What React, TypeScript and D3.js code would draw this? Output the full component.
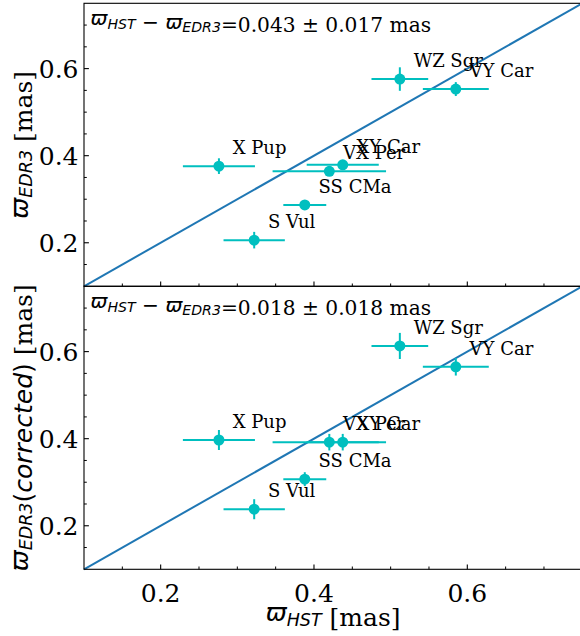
import React from "react";
import * as d3 from "d3";

// ---- data ----
const stars = ["X Pup", "S Vul", "SS CMa", "VX Per", "XY Car", "WZ Sgr", "VY Car"];
const hstPlx = [0.276, 0.322, 0.388, 0.42, 0.4375, 0.512, 0.585];
const hstErr = [0.047, 0.04, 0.028, 0.074, 0.047, 0.037, 0.043];
const edr3Plx = [0.376, 0.206, 0.287, 0.364, 0.379, 0.576, 0.553];
const edr3Err = [0.018, 0.019, 0.01, 0.01, 0.011, 0.027, 0.016];
const edr3CorrPlx = [0.397, 0.238, 0.307, 0.392, 0.392, 0.613, 0.565];
const edr3CorrErr = [0.023, 0.023, 0.016, 0.019, 0.019, 0.03, 0.02];
const meanDiff = ["0.043", "0.018"];
const meanDiffErr = ["0.017", "0.018"];
const majorTicks = [0.2, 0.4, 0.6];
const domain = [0.1, 0.75];

// ---- layout ----
const W = 580;
const H = 636;
const left = 84;
const right = 582.3;
const panelTops = [3.3, 286.3];
const panelH = 283;
const CYAN = "#00bfbf";
const BLUE = "#1f77b4";
const SERIF = "DejaVu Serif";
const SANS = "DejaVu Sans";

const x = d3.scaleLinear().domain(domain).range([left, right]);

function MathVar({ sub, size }: { sub: string; size: number }) {
  const s = size * 0.7;
  const dy = size * 0.19;
  return (
    <>
      <tspan fontFamily={SANS} fontStyle="italic">ϖ</tspan>
      <tspan fontFamily={SANS} fontStyle="italic" fontSize={s} dy={dy}>{sub}</tspan>
      <tspan dy={-dy} fontSize={size}>{""}</tspan>
    </>
  );
}

function Panel({ idx, yVals, yErrs, showXLabels }: { idx: number; yVals: number[]; yErrs: number[]; showXLabels: boolean }) {
  const top = panelTops[idx];
  const bottom = top + panelH;
  const y = d3.scaleLinear().domain(domain).range([bottom, top]);
  const isMajor = (t: number) => majorTicks.some((m) => Math.abs(m - t) < 1e-9);
  const inside = (t: number) => t > domain[0] + 1e-9 && t < domain[1] - 1e-9;
  const minorX = x.ticks(13).filter((t) => !isMajor(t) && inside(t));
  const minorY = y.ticks(13).filter((t) => !isMajor(t) && inside(t));
  const line = d3.line<number>().x((d) => x(d)).y((d) => y(d));
  const fs = 20.2;
  return (
    <g>
      {/* identity line */}
      <path d={line(domain) || ""} stroke={BLUE} strokeWidth={2} fill="none" />
      {/* error bars */}
      {stars.map((s, i) => (
        <g key={"e" + s}>
          <line x1={x(hstPlx[i] - hstErr[i])} x2={x(hstPlx[i] + hstErr[i])} y1={y(yVals[i])} y2={y(yVals[i])} stroke={CYAN} strokeWidth={2} />
          <line x1={x(hstPlx[i])} x2={x(hstPlx[i])} y1={y(yVals[i] - yErrs[i])} y2={y(yVals[i] + yErrs[i])} stroke={CYAN} strokeWidth={2} />
        </g>
      ))}
      {stars.map((s, i) => (
        <circle key={"c" + s} cx={x(hstPlx[i])} cy={y(yVals[i])} r={5.5} fill={CYAN} />
      ))}
      {/* star labels */}
      {stars.map((s, i) => (
        <text key={"t" + s} x={x(hstPlx[i] + 0.018)} y={y(yVals[i] + 0.028)} fontFamily={SERIF} fontSize={18} fill="#000">
          {s}
        </text>
      ))}
      {/* annotation */}
      <text x={left + 6.5} y={top + 21.5} fontFamily={SERIF} fontSize={fs} fill="#000">
        <MathVar sub="HST" size={fs} />
        <tspan fontFamily={SANS}>{" − "}</tspan>
        <MathVar sub="EDR3" size={fs} />
        <tspan>{`=${meanDiff[idx]} ± ${meanDiffErr[idx]} mas`}</tspan>
      </text>
      {/* spines */}
      <rect x={left} y={top} width={right - left} height={panelH} fill="none" stroke="#000" strokeWidth={1.1} />
      {/* x ticks (bottom, inward) */}
      {majorTicks.map((t) => (
        <line key={"xM" + t} x1={x(t)} x2={x(t)} y1={bottom} y2={bottom - 4.9} stroke="#000" strokeWidth={1.1} />
      ))}
      {minorX.map((t) => (
        <line key={"xm" + t} x1={x(t)} x2={x(t)} y1={bottom} y2={bottom - 2.8} stroke="#000" strokeWidth={1} />
      ))}
      {/* y ticks (left, inward) */}
      {majorTicks.map((t) => (
        <line key={"yM" + t} x1={left} x2={left + 4.9} y1={y(t)} y2={y(t)} stroke="#000" strokeWidth={1.1} />
      ))}
      {minorY.map((t) => (
        <line key={"ym" + t} x1={left} x2={left + 2.8} y1={y(t)} y2={y(t)} stroke="#000" strokeWidth={1} />
      ))}
      {/* y tick labels */}
      {majorTicks.map((t) => (
        <text key={"yl" + t} x={left - 5.5} y={y(t) + 9.1} textAnchor="end" fontFamily={SERIF} fontSize={25} fill="#000">
          {d3.format(".1f")(t)}
        </text>
      ))}
      {showXLabels &&
        majorTicks.map((t) => (
          <text key={"xl" + t} x={x(t)} y={602} textAnchor="middle" fontFamily={SERIF} fontSize={25} fill="#000">
            {d3.format(".1f")(t)}
          </text>
        ))}
    </g>
  );
}

export default function App() {
  const ls = 25;
  const c0 = panelTops[0] + panelH / 2;
  const c1 = panelTops[1] + panelH / 2;
  return (
    <svg width={W} height={H} viewBox={`0 0 ${W} ${H}`} style={{ position: "absolute", left: 0, top: 0, background: "#fff" }}>
      <rect x={0} y={0} width={W} height={H} fill="#fff" />
      <Panel idx={0} yVals={edr3Plx} yErrs={edr3Err} showXLabels={false} />
      <Panel idx={1} yVals={edr3CorrPlx} yErrs={edr3CorrErr} showXLabels={true} />
      {/* x label */}
      <text x={(left + right) / 2} y={621} textAnchor="middle" fontFamily={SERIF} fontSize={ls} fill="#000">
        <MathVar sub="HST" size={ls} />
        <tspan>{" [mas]"}</tspan>
      </text>
      {/* y labels */}
      <text transform={`translate(27.5,${c0}) rotate(-90)`} textAnchor="middle" fontFamily={SERIF} fontSize={ls} fill="#000">
        <MathVar sub="EDR3" size={ls} />
        <tspan>{" [mas]"}</tspan>
      </text>
      <text transform={`translate(27.5,${c1}) rotate(-90)`} textAnchor="middle" fontFamily={SERIF} fontSize={ls} fill="#000">
        <MathVar sub="EDR3" size={ls} />
        <tspan fontFamily={SANS} fontStyle="normal">(</tspan>
        <tspan fontFamily={SANS} fontStyle="italic">corrected</tspan>
        <tspan fontFamily={SANS} fontStyle="normal">)</tspan>
        <tspan>{" [mas]"}</tspan>
      </text>
    </svg>
  );
}
